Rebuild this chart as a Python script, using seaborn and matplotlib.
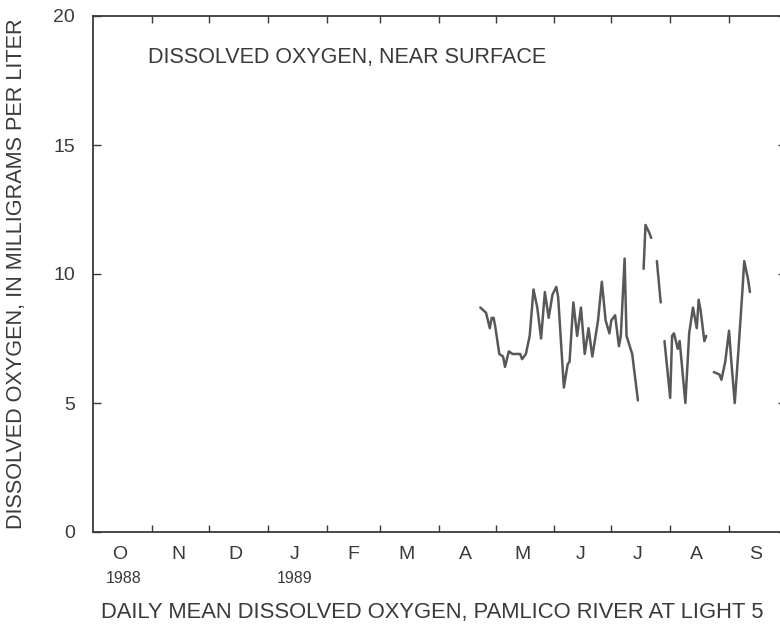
import pandas as pd
import numpy as np
import matplotlib
matplotlib.use('Agg')
import matplotlib.pyplot as plt
import matplotlib.dates as mdates
import matplotlib.transforms as mtrans
import seaborn as sns

# ── Daily mean dissolved oxygen (mg/L) ────
seg1_dates = ['1989-04-23', '1989-04-26', '1989-04-28', '1989-04-29', '1989-04-30',
              '1989-05-01', '1989-05-03', '1989-05-05', '1989-05-06', '1989-05-08',
              '1989-05-10', '1989-05-11', '1989-05-14', '1989-05-15', '1989-05-17',
              '1989-05-19', '1989-05-21', '1989-05-23', '1989-05-25', '1989-05-27',
              '1989-05-29', '1989-05-31', '1989-06-02', '1989-06-03', '1989-06-06',
              '1989-06-08', '1989-06-09', '1989-06-11', '1989-06-13', '1989-06-15',
              '1989-06-17', '1989-06-19', '1989-06-21', '1989-06-24', '1989-06-26',
              '1989-06-28', '1989-06-30', '1989-07-01', '1989-07-03', '1989-07-05',
              '1989-07-06', '1989-07-08', '1989-07-09', '1989-07-12', '1989-07-15']
seg1_do = [8.7, 8.5, 7.9, 8.3, 8.3,
           7.9, 6.9, 6.8, 6.4, 7.0,
           6.9, 6.9, 6.9, 6.7, 6.9,
           7.6, 9.4, 8.7, 7.5, 9.3,
           8.3, 9.2, 9.5, 9.1, 5.6,
           6.5, 6.6, 8.9, 7.6, 8.7,
           6.9, 7.9, 6.8, 8.2, 9.7,
           8.2, 7.7, 8.2, 8.4, 7.2,
           7.6, 10.6, 7.6, 6.9, 5.1]

seg2_dates = ['1989-07-18', '1989-07-19', '1989-07-21', '1989-07-22']
seg2_do = [10.2, 11.9, 11.6, 11.4]

seg3_dates = ['1989-07-25', '1989-07-27']
seg3_do = [10.5, 8.9]

seg4_dates = ['1989-07-29', '1989-08-01', '1989-08-02', '1989-08-03', '1989-08-05',
              '1989-08-06', '1989-08-09', '1989-08-11', '1989-08-13', '1989-08-15',
              '1989-08-16', '1989-08-17', '1989-08-19', '1989-08-20']
seg4_do = [7.4, 5.2, 7.6, 7.7, 7.1,
           7.4, 5.0, 7.7, 8.7, 7.9,
           9.0, 8.6, 7.4, 7.6]

seg5_dates = ['1989-08-24', '1989-08-27', '1989-08-28', '1989-08-30', '1989-09-01',
              '1989-09-02', '1989-09-04', '1989-09-06', '1989-09-08', '1989-09-09',
              '1989-09-11', '1989-09-12']
seg5_do = [6.2, 6.1, 5.9, 6.6, 7.8,
           6.8, 5.0, 7.1, 9.3, 10.5,
           9.8, 9.3]

month_letters = ['O', 'N', 'D', 'J', 'F', 'M', 'A', 'M', 'J', 'J', 'A', 'S']

# ── Build long table (one unit per unbroken record) ───────────
frames = []
for i, (d, v) in enumerate([(seg1_dates, seg1_do), (seg2_dates, seg2_do),
                            (seg3_dates, seg3_do), (seg4_dates, seg4_do),
                            (seg5_dates, seg5_do)]):
    frames.append(pd.DataFrame({'date': pd.to_datetime(d), 'do': v, 'seg': i}))
df = pd.concat(frames, ignore_index=True)

sns.set_style('ticks')
plt.rcParams['font.family'] = ['Liberation Sans', 'DejaVu Sans']
ink = '#3a3a3a'

fig = plt.figure(figsize=(7.8, 6.25), dpi=100)
ax = fig.add_axes([93 / 780, 93 / 625, 693 / 780, 516 / 625])

sns.lineplot(data=df, x='date', y='do', units='seg', estimator=None,
             color='#585858', linewidth=1.8, ax=ax, legend=False)

ax.set_xlim(pd.Timestamp('1988-10-01'), pd.Timestamp('1989-10-01'))
ax.set_ylim(0, 20)

# frame
for s in ax.spines.values():
    s.set_color(ink)
    s.set_linewidth(1.3)

# month boundaries (major, inward ticks, no labels)
month_starts = pd.date_range('1988-11-01', '1989-09-01', freq='MS')
ax.set_xticks(month_starts)
ax.tick_params(axis='x', which='major', direction='in', length=5, width=1,
               color=ink, top=True, bottom=True, labelbottom=False)
# month letters at mid-month (minor)
mid_month = pd.date_range('1988-10-01', '1989-09-01', freq='MS') + pd.Timedelta(days=14)
ax.set_xticks(mid_month, minor=True)
ax.set_xticklabels(month_letters, minor=True)
ax.tick_params(axis='x', which='minor', length=0, pad=10, labelsize=14,
               labelcolor=ink)

ax.set_yticks([0, 5, 10, 15, 20])
ax.tick_params(axis='y', direction='in', length=6, width=1, color=ink,
               left=True, right=True, pad=13, labelsize=14, labelcolor=ink)

# year labels under O and J
trans = mtrans.blended_transform_factory(ax.transData, ax.transAxes)
for yr, d in [('1988', '1988-10-17'), ('1989', '1989-01-15')]:
    ax.text(mdates.date2num(pd.Timestamp(d)), -0.09, yr, transform=trans,
            ha='center', va='center', fontsize=11.5, color=ink)

ax.text(0.079, 0.92, 'DISSOLVED OXYGEN, NEAR SURFACE', transform=ax.transAxes,
        ha='left', va='center', fontsize=15.5, color=ink)

ax.set_xlabel('DAILY MEAN DISSOLVED OXYGEN, PAMLICO RIVER AT LIGHT 5',
              fontsize=15.8, color=ink)
ax.set_ylabel('DISSOLVED OXYGEN, IN MILLIGRAMS PER LITER',
              fontsize=15.6, color=ink)
ax.xaxis.set_label_coords((432 - 93) / 693, -0.136)
ax.yaxis.set_label_coords(-0.095, 0.5)

fig.savefig('out.png', dpi=100, facecolor='white')
plt.close()
